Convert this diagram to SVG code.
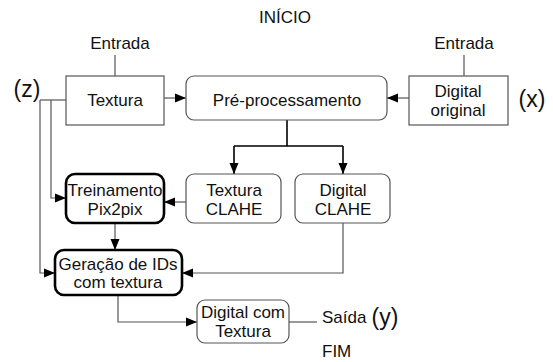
<svg xmlns="http://www.w3.org/2000/svg" width="553" height="362" viewBox="0 0 553 362">
<defs>
<marker id="ah" markerUnits="userSpaceOnUse" markerWidth="12" markerHeight="10" refX="11" refY="5" orient="auto">
<path d="M0,0.5 L11,5 L0,9.5 Z" fill="#000"/>
</marker>
<style>
text{font-family:"Liberation Sans",Arial,sans-serif;font-size:17px;fill:#111;}
.c{text-anchor:middle;}
.big{font-size:23px;}
.thin{fill:#fff;stroke:#555;stroke-width:1.2;}
.thick{fill:#fff;stroke:#000;stroke-width:2.6;}
.ln{fill:none;stroke:#555;stroke-width:1.2;}
.ar{fill:none;stroke:#555;stroke-width:1.2;marker-end:url(#ah);}
.bk{fill:none;stroke:#000;stroke-width:1.6;}
</style>
</defs>
<rect width="553" height="362" fill="#fff"/>
<text x="285" y="23" class="c">INÍCIO</text>
<text x="120" y="49" class="c">Entrada</text>
<text x="464" y="49" class="c">Entrada</text>
<text x="27" y="97" class="c big">(z)</text>
<text x="532" y="107" class="c big">(x)</text>
<text x="322" y="323">Saída</text>
<text x="385" y="325" class="c big">(y)</text>
<text x="322" y="357">FIM</text>
<g id="connectors">
<path class="ln" d="M115,55 V76"/>
<path class="ln" d="M464,55 V76"/>
<path class="ar" d="M164,98 H186"/>
<path class="ar" d="M409,98 H387"/>
<path class="bk" d="M287,120 V146 M234,146 H343"/>
<path class="bk" d="M234,146 V174" marker-end="url(#ah)"/>
<path class="bk" d="M343,146 V174" marker-end="url(#ah)"/>
<path class="ln" d="M40,100 H66"/>
<path class="ar" d="M40,100 V273 H55"/>
<path class="ar" d="M51,100 V198 H66"/>
<path class="ar" d="M186,202 H164"/>
<path class="ar" d="M115,223 V250"/>
<path class="ar" d="M343,223 V273 H182"/>
<path class="ar" d="M118,295 V322 H197"/>
<path class="ln" d="M289,322 H317"/>
</g>
<g id="textura">
<rect class="thin" x="66" y="76" width="98" height="49"/>
<text x="115" y="106" class="c">Textura</text>
</g>
<g id="preprocessamento">
<rect class="thin" x="186" y="76" width="201" height="44" rx="8"/>
<text x="287" y="106" class="c">Pré-processamento</text>
</g>
<g id="digital-original">
<rect class="thin" x="409" y="76" width="99" height="49"/>
<text x="458" y="97" class="c">Digital</text>
<text x="458" y="116" class="c">original</text>
</g>
<g id="textura-clahe">
<rect class="thin" x="186" y="174" width="95" height="49" rx="8"/>
<text x="234" y="196" class="c">Textura</text>
<text x="234" y="215" class="c">CLAHE</text>
</g>
<g id="digital-clahe">
<rect class="thin" x="295" y="174" width="95" height="49" rx="8"/>
<text x="343" y="196" class="c">Digital</text>
<text x="343" y="215" class="c">CLAHE</text>
</g>
<g id="treinamento">
<rect class="thick" x="66" y="174" width="98" height="49" rx="9"/>
<text x="115" y="196" class="c">Treinamento</text>
<text x="115" y="215" class="c">Pix2pix</text>
</g>
<g id="geracao">
<rect class="thick" x="55" y="250" width="127" height="45" rx="9"/>
<text x="118" y="270" class="c">Geração de IDs</text>
<text x="118" y="288" class="c">com textura</text>
</g>
<g id="digital-com-textura">
<rect class="thin" x="197" y="300" width="92" height="43" rx="8"/>
<text x="243" y="318" class="c">Digital com</text>
<text x="243" y="337" class="c">Textura</text>
</g>
</svg>
